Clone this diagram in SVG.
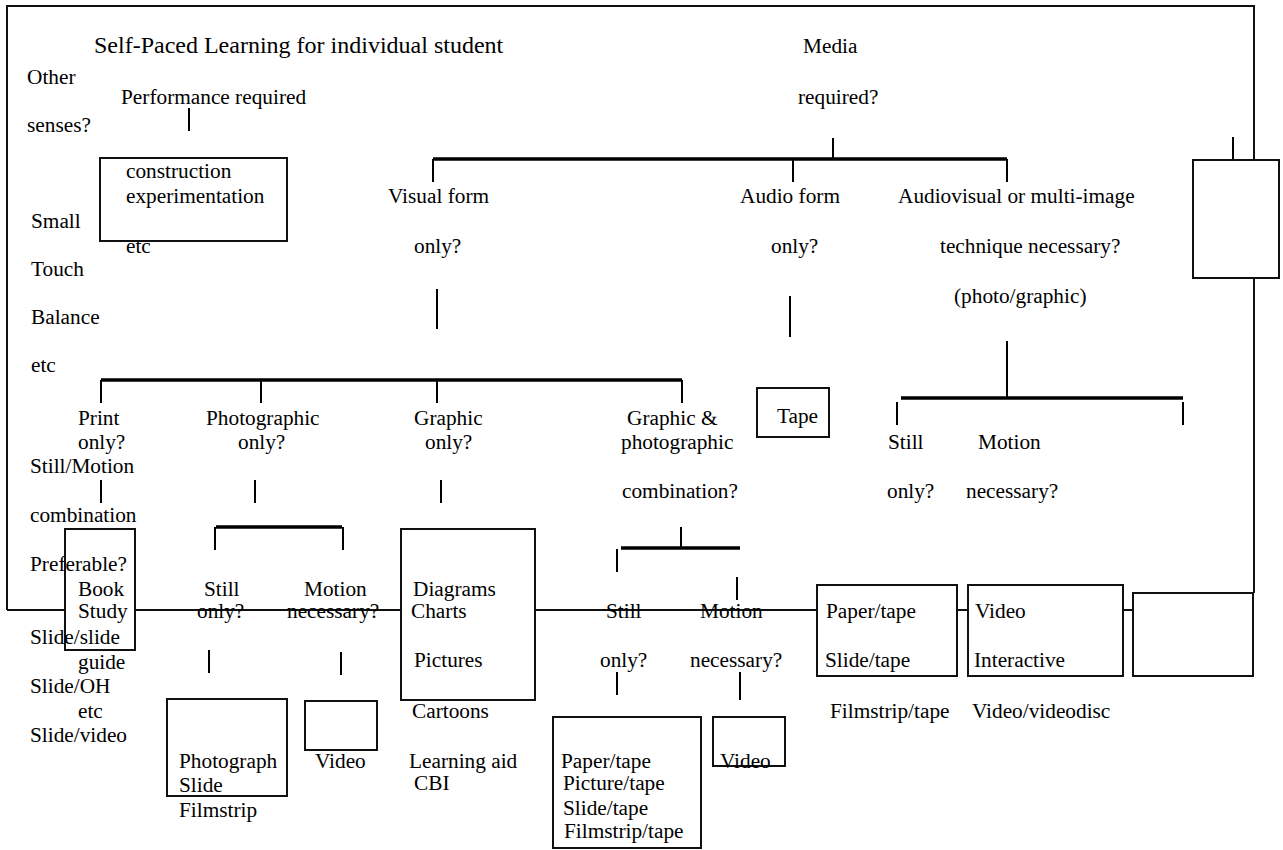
<svg xmlns="http://www.w3.org/2000/svg" width="1283" height="850" viewBox="0 0 1283 850">
  <style>
    text { font-family: "Liberation Serif", "Times New Roman", serif; font-size: 21.3px; fill: #000; }
    .title { font-size: 24px; }
    .box { fill: none; stroke: #111; stroke-width: 2; }
    .frame { fill: none; stroke: #111; stroke-width: 2; }
    .stem { fill: none; stroke: #000; stroke-width: 2; }
    .bar { fill: none; stroke: #000; stroke-width: 3.5; }
  </style>
  <rect width="1283" height="850" fill="#fff"/>

  <!-- connectors: outer loop, branch bars and stems -->
  <g id="connectors">
    <path class="frame" d="M7 610 V6 H1254 V160 M1254 278 V593 M7 610 H65 M135 610 H401 M535 610 H817 M957 610 H968 M1123 610 H1133"/>
    <!-- performance stem -->
    <path class="stem" d="M189 108 V131"/>
    <!-- media branch -->
    <path class="stem" d="M833 138 V159"/>
    <path class="bar" d="M433 159 H1007"/>
    <path class="stem" d="M433 159 V182 M793 159 V182 M1007 159 V182"/>
    <path class="stem" d="M1233 137 V160"/>
    <!-- visual form branch -->
    <path class="stem" d="M437 289 V329"/>
    <path class="bar" d="M101 380 H682"/>
    <path class="stem" d="M101 380 V403 M261 380 V403 M437 380 V403 M682 380 V403"/>
    <!-- audio branch -->
    <path class="stem" d="M790 296 V337"/>
    <!-- audiovisual branch -->
    <path class="stem" d="M1007 341 V398"/>
    <path class="bar" d="M901 398 H1183"/>
    <path class="stem" d="M897 402 V425 M1183 402 V425"/>
    <!-- print / photographic / graphic stems -->
    <path class="stem" d="M101 480 V503 M255 480 V503 M441 480 V503"/>
    <path class="bar" d="M216 527 H342"/>
    <path class="stem" d="M215 527 V550 M343 527 V550"/>
    <path class="stem" d="M209 650 V673 M341 652 V675"/>
    <!-- graphic & photographic branch -->
    <path class="stem" d="M681 527 V548"/>
    <path class="bar" d="M621 548 H740"/>
    <path class="stem" d="M617 549 V572 M737 577 V600"/>
    <path class="stem" d="M617 672 V695 M740 672 V700"/>
  </g>

  <g id="title"><text class="title" x="94" y="53">Self-Paced Learning for individual student</text></g>
  <g id="media"><text x="803" y="53">Media</text><text x="798" y="104">required?</text></g>
  <g id="other-senses">
    <text x="27" y="84">Other</text>
    <text x="27" y="132">senses?</text>
    <text x="31" y="228">Small</text>
    <text x="31" y="276">Touch</text>
    <text x="31" y="324">Balance</text>
    <text x="31" y="372">etc</text>
  </g>
  <g id="performance"><text x="121" y="104">Performance required</text></g>
  <g id="construction">
    <rect class="box" x="100" y="158" width="187" height="83"/>
    <text x="126" y="178">construction</text>
    <text x="126" y="203">experimentation</text>
    <text x="126" y="253">etc</text>
  </g>
  <g id="visual-form"><text x="388" y="203">Visual form</text><text x="414" y="253">only?</text></g>
  <g id="audio-form"><text x="740" y="203">Audio form</text><text x="771" y="253">only?</text></g>
  <g id="audiovisual">
    <text x="898" y="203">Audiovisual or multi-image</text>
    <text x="940" y="253">technique necessary?</text>
    <text x="954" y="303">(photo/graphic)</text>
  </g>
  <g id="right-box"><rect class="box" x="1193" y="160" width="86" height="118"/></g>

  <g id="print">
    <text x="78" y="425">Print</text>
    <text x="78" y="449">only?</text>
    <text x="30" y="473">Still/Motion</text>
    <text x="30" y="522">combination</text>
    <text x="30" y="571">Preferable?</text>
  </g>
  <g id="book">
    <rect class="box" x="65" y="529" width="70" height="121"/>
    <text x="78" y="596">Book</text>
    <text x="78" y="618">Study</text>
    <text x="30" y="644">Slide/slide</text>
    <text x="78" y="669">guide</text>
    <text x="30" y="693">Slide/OH</text>
    <text x="78" y="718">etc</text>
    <text x="30" y="742">Slide/video</text>
  </g>
  <g id="photographic"><text x="206" y="425">Photographic</text><text x="238" y="449">only?</text></g>
  <g id="photo-still"><text x="204" y="596">Still</text><text x="197" y="618">only?</text></g>
  <g id="photo-motion"><text x="304" y="596">Motion</text><text x="287" y="618">necessary?</text></g>
  <g id="photograph">
    <rect class="box" x="167" y="699" width="120" height="97"/>
    <text x="179" y="768">Photograph</text>
    <text x="179" y="792">Slide</text>
    <text x="179" y="817">Filmstrip</text>
  </g>
  <g id="photo-video">
    <rect class="box" x="305" y="701" width="72" height="49"/>
    <text x="315" y="768">Video</text>
  </g>
  <g id="graphic"><text x="414" y="425">Graphic</text><text x="425" y="449">only?</text></g>
  <g id="diagrams">
    <rect class="box" x="401" y="529" width="134" height="171"/>
    <text x="413" y="596">Diagrams</text>
    <text x="411" y="618">Charts</text>
    <text x="414" y="667">Pictures</text>
    <text x="412" y="718">Cartoons</text>
    <text x="409" y="768">Learning aid</text>
    <text x="414" y="790">CBI</text>
  </g>
  <g id="graphic-photographic">
    <text x="627" y="425">Graphic &amp;</text>
    <text x="621" y="449">photographic</text>
    <text x="622" y="498">combination?</text>
  </g>
  <g id="combo-still"><text x="606" y="618">Still</text><text x="600" y="667">only?</text></g>
  <g id="combo-motion"><text x="700" y="618">Motion</text><text x="690" y="667">necessary?</text></g>
  <g id="combo-tape">
    <rect class="box" x="553" y="717" width="148" height="131"/>
    <text x="561" y="768">Paper/tape</text>
    <text x="563" y="790">Picture/tape</text>
    <text x="563" y="815">Slide/tape</text>
    <text x="564" y="838">Filmstrip/tape</text>
  </g>
  <g id="combo-video">
    <rect class="box" x="713" y="717" width="72" height="49"/>
    <text x="720" y="768">Video</text>
  </g>
  <g id="tape">
    <rect class="box" x="757" y="388" width="72" height="49"/>
    <text x="777" y="423">Tape</text>
  </g>
  <g id="av-still"><text x="888" y="449">Still</text><text x="887" y="498">only?</text></g>
  <g id="av-motion"><text x="978" y="449">Motion</text><text x="966" y="498">necessary?</text></g>
  <g id="av-tape">
    <rect class="box" x="817" y="585" width="140" height="91"/>
    <text x="826" y="618">Paper/tape</text>
    <text x="825" y="667">Slide/tape</text>
    <text x="830" y="718">Filmstrip/tape</text>
  </g>
  <g id="av-video">
    <rect class="box" x="968" y="585" width="155" height="91"/>
    <text x="975" y="618">Video</text>
    <text x="974" y="667">Interactive</text>
    <text x="972" y="718">Video/videodisc</text>
  </g>
  <g id="end-box"><rect class="box" x="1133" y="593" width="120" height="83"/></g>
</svg>
